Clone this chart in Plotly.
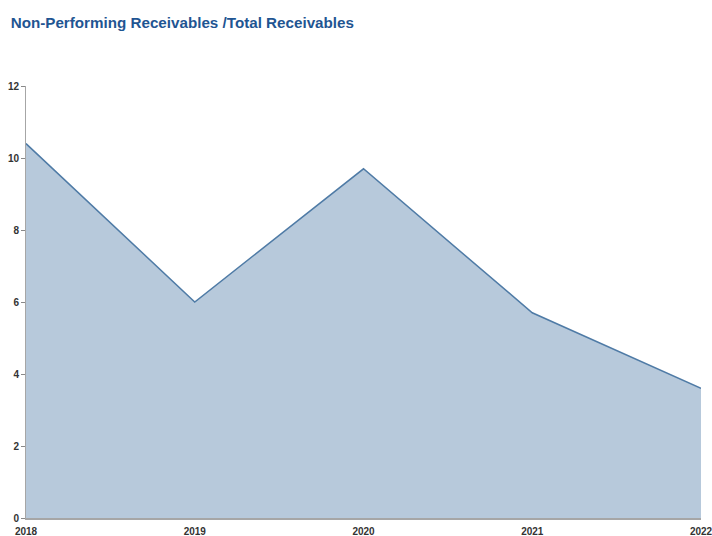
import plotly.graph_objects as go

years = [2018, 2019, 2020, 2021, 2022]
ratio = [10.4, 6.0, 9.7, 5.7, 3.6]
y_ticks = [0, 2, 4, 6, 8, 10, 12]
title_text = "Non-Performing Receivables /Total Receivables"

fig = go.Figure()
fig.add_trace(go.Scatter(
    x=years, y=ratio, mode="lines", fill="tozeroy",
    line=dict(color="#4f7ba6", width=1.5),
    fillcolor="#b7c9db", hoverinfo="skip", showlegend=False,
))

fig.update_layout(
    width=712, height=536,
    margin=dict(l=26, r=11, t=86, b=18),
    paper_bgcolor="white", plot_bgcolor="white",
    font=dict(family="Liberation Sans, Arial, sans-serif", size=10, color="#333333"),
    title=dict(text="<b>" + title_text + "</b>", x=0.015, xanchor="left",
               y=0.958, yanchor="middle",
               font=dict(size=15.2, color="#1f5592", family="Liberation Sans, Arial, sans-serif")),
    xaxis=dict(range=[2018, 2022], tickvals=years, ticktext=["<b>%d</b>" % y for y in years],
               showgrid=False, zeroline=False, showline=True, linecolor="#a6a6a6", linewidth=2,
               ticks="", ticklabelstandoff=3, automargin=False, ticklabeloverflow="allow",
               fixedrange=True),
    yaxis=dict(range=[0, 12], tickvals=y_ticks, ticktext=["<b>%d</b>" % v for v in y_ticks],
               showgrid=False, zeroline=False, showline=True, linecolor="#a6a6a6", linewidth=1,
               ticks="outside", ticklen=4, tickcolor="#888888", automargin=False,
               fixedrange=True),
)

fig.write_html("out.html")
